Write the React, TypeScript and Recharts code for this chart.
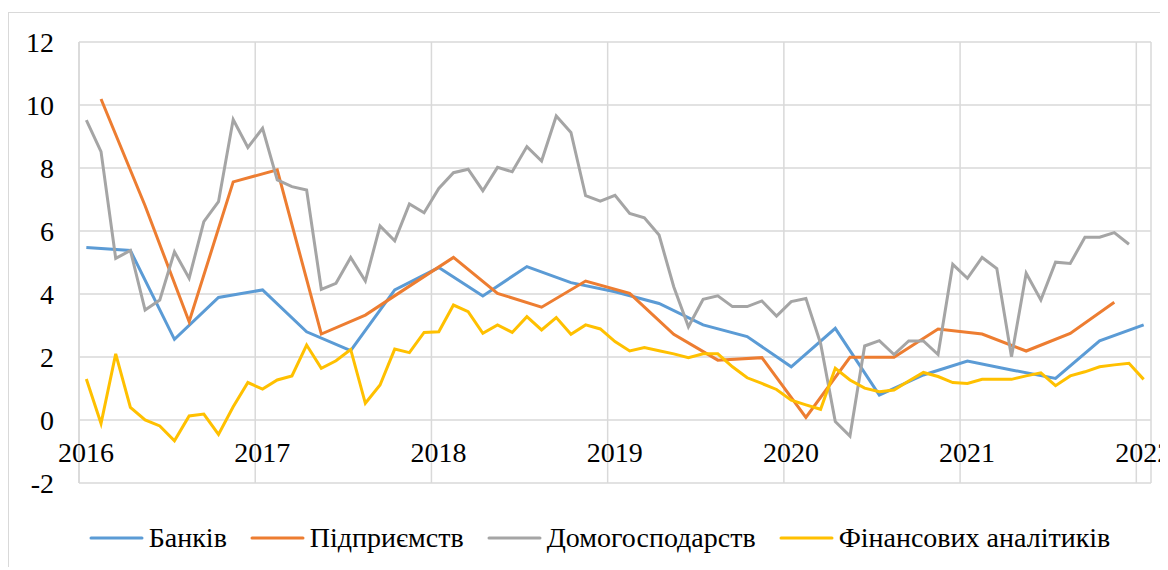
import { CartesianGrid, Legend, Line, LineChart, ReferenceLine, XAxis, YAxis } from "recharts";

// months counted from Jan 2016; Excel date axis puts each month mid-slot
const yearTicks = [0, 12, 24, 36, 48, 60, 72];
const yearLabels = ["2016", "2017", "2018", "2019", "2020", "2021", "2022"];
const valueTicks = [-2, 0, 2, 4, 6, 8, 10, 12];

// Банків — quarterly survey
const bankMonths = [0, 3, 6, 9, 12, 15, 18, 21, 24, 27, 30, 33, 36, 39, 42, 45, 48, 51, 54, 57, 60, 63, 66, 69, 72];
const bankValues = [5.48, 5.38, 2.56, 3.89, 4.13, 2.8, 2.2, 4.13, 4.84, 3.94, 4.87, 4.36, 4.07, 3.7, 3.02, 2.65, 1.69, 2.91, 0.79, 1.43, 1.87, 1.59, 1.32, 2.51, 3.02];

// Підприємств — quarterly survey
const firmMonths = [1, 4, 7, 10, 13, 16, 19, 22, 25, 28, 31, 34, 37, 40, 43, 46, 49, 52, 55, 58, 61, 64, 67, 70];
const firmValues = [10.19, 6.8, 3.12, 7.56, 7.94, 2.73, 3.33, 4.25, 5.16, 4.02, 3.58, 4.41, 4.02, 2.72, 1.9, 1.98, 0.08, 1.99, 1.99, 2.89, 2.73, 2.19, 2.75, 3.74];

// Домогосподарств — monthly, Jan 2016 .. Dec 2021
const householdValues = [
  9.52, 8.52, 5.13, 5.38, 3.49, 3.81, 5.34, 4.5, 6.3, 6.93, 9.54, 8.65,
  9.26, 7.62, 7.41, 7.3, 4.15, 4.34, 5.16, 4.41, 6.16, 5.69, 6.86, 6.58,
  7.35, 7.85, 7.96, 7.28, 8.02, 7.88, 8.68, 8.22, 9.65, 9.13, 7.12, 6.95,
  7.13, 6.56, 6.42, 5.87, 4.23, 2.96, 3.83, 3.94, 3.6, 3.6, 3.78, 3.3,
  3.76, 3.86, 2.43, -0.05, -0.51, 2.35, 2.52, 2.08, 2.51, 2.51, 2.08, 4.94,
  4.5, 5.16, 4.81, 2.01, 4.66, 3.81, 5.01, 4.97, 5.8, 5.8, 5.95, 5.58,
];

// Фінансових аналітиків — monthly, Jan 2016 .. Jan 2022
const analystValues = [
  1.3, -0.11, 2.1, 0.4, 0.0, -0.19, -0.66, 0.13, 0.19, -0.46, 0.42, 1.19,
  0.98, 1.27, 1.4, 2.38, 1.64, 1.88, 2.24, 0.53, 1.11, 2.25, 2.14, 2.78,
  2.8, 3.65, 3.44, 2.75, 3.02, 2.78, 3.28, 2.86, 3.25, 2.72, 3.02, 2.89,
  2.49, 2.19, 2.3, 2.2, 2.1, 1.98, 2.1, 2.1, 1.69, 1.34, 1.16, 0.97,
  0.63, 0.48, 0.34, 1.64, 1.27, 1.01, 0.9, 0.95, 1.24, 1.51, 1.38, 1.19,
  1.16, 1.29, 1.29, 1.29, 1.4, 1.5, 1.09, 1.4, 1.53, 1.69, 1.75, 1.8,
  1.29,
];

const series = [
  { key: "banks", name: "Банків", color: "#5b9bd5" },
  { key: "firms", name: "Підприємств", color: "#ed7d31" },
  { key: "households", name: "Домогосподарств", color: "#a5a5a5" },
  { key: "analysts", name: "Фінансових аналітиків", color: "#ffc000" },
];

type Row = { x: number; [k: string]: number | null };

const rows: Row[] = analystValues.map((_, m) => {
  const bi = bankMonths.indexOf(m);
  const fi = firmMonths.indexOf(m);
  return {
    x: m + 0.5,
    banks: bi >= 0 ? bankValues[bi] : null,
    firms: fi >= 0 ? firmValues[fi] : null,
    households: m < householdValues.length ? householdValues[m] : null,
    analysts: analystValues[m],
  };
});

const FONT =
  "'Liberation Serif', 'Times New Roman', Times, Tinos, 'Nimbus Roman', 'Noto Serif', 'DejaVu Serif', serif";
const W = 1159;
const H = 557;

// year labels sit just under the zero line, centred on January
function renderYearTick(props: { x?: number; y?: number; payload?: { value: number } }) {
  const { x = 0, y = 0, payload } = props;
  const i = yearTicks.indexOf(payload?.value ?? -1);
  return (
    <text
      key={`yt-${i}`}
      x={x + 7}
      y={y - 31}
      textAnchor="middle"
      dominantBaseline="central"
      fontSize={28}
      fontFamily={FONT}
      fill="#000"
    >
      {yearLabels[i]}
    </text>
  );
}

function LegendRow() {
  return (
    <div
      style={{
        display: "flex",
        justifyContent: "center",
        alignItems: "center",
        gap: 23,
        fontFamily: FONT,
        fontSize: 28,
        color: "#000",
        lineHeight: "28px",
      }}
    >
      {series.map((s) => (
        <div key={s.key} style={{ display: "flex", alignItems: "center", gap: 5 }}>
          <svg width={55} height={10}>
            <line x1={2} y1={5} x2={53} y2={5} stroke={s.color} strokeWidth={3} strokeLinecap="round" />
          </svg>
          <span>{s.name}</span>
        </div>
      ))}
    </div>
  );
}

export default function App() {
  return (
    <div
      style={{
        position: "relative",
        top: 4,
        width: 1160,
        height: 558,
        borderLeft: "1px solid #d9d9d9",
        borderTop: "1px solid #d9d9d9",
        background: "#fff",
      }}
    >
      <LineChart width={W} height={H} data={rows} margin={{ top: 29, right: 17, bottom: 86, left: 0 }}>
        <CartesianGrid stroke="#d9d9d9" strokeWidth={1.5} />
        <ReferenceLine x={0} stroke="#d9d9d9" strokeWidth={1.5} />
        <XAxis
          type="number"
          dataKey="x"
          domain={[0, 73]}
          ticks={yearTicks}
          interval={0}
          height={1}
          tickSize={0}
          tickMargin={0}
          axisLine={false}
          tickLine={false}
          tick={renderYearTick}
        />
        <YAxis
          type="number"
          domain={[-2, 12]}
          ticks={valueTicks}
          interval={0}
          width={70}
          tickSize={0}
          tickMargin={25}
          axisLine={false}
          tickLine={false}
          tick={{ fontSize: 28, fontFamily: FONT, fill: "#000" }}
        />
        <Legend
          verticalAlign="middle"
          align="center"
          content={<LegendRow />}
          wrapperStyle={{ top: 511, left: 22, width: W - 22, bottom: "auto" }}
        />
        {series.map((s) => (
          <Line
            key={s.key}
            type="linear"
            dataKey={s.key}
            name={s.name}
            stroke={s.color}
            strokeWidth={3}
            dot={false}
            activeDot={false}
            connectNulls
            isAnimationActive={false}
          />
        ))}
      </LineChart>
    </div>
  );
}
